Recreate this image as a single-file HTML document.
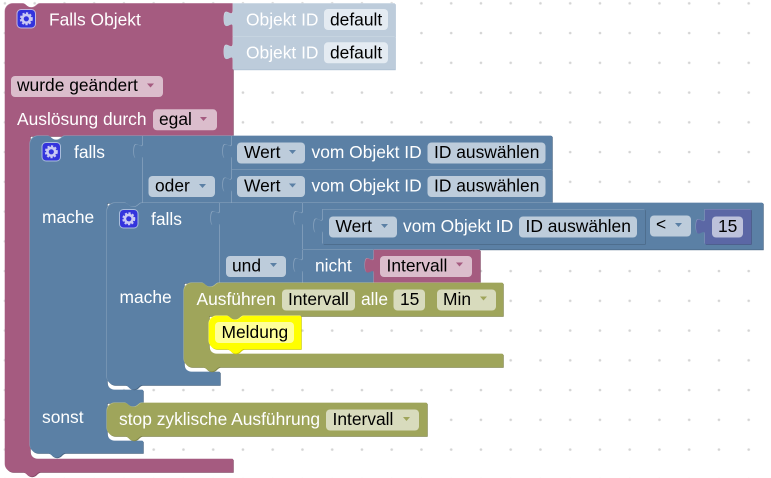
<!DOCTYPE html>
<html><head><meta charset="utf-8"><style>
html,body{margin:0;padding:0;background:#fff;width:771px;height:478px;overflow:hidden}
svg{display:block}
text{font-family:"Liberation Sans",Arial,sans-serif;font-size:17.4px;white-space:pre}
.w{fill:#fff}.k{fill:#000}.p{fill:#fff}
</style></head><body>
<svg width="771" height="478" viewBox="0 0 771 478" xmlns="http://www.w3.org/2000/svg">
<defs>
<pattern id="grid" x="4.95" y="3.3" width="29.75" height="29.75" patternUnits="userSpaceOnUse">
<circle cx="0" cy="0" r="1.3" fill="#d4d4d4"/><circle cx="29.75" cy="0" r="1.3" fill="#d4d4d4"/><circle cx="0" cy="29.75" r="1.3" fill="#d4d4d4"/><circle cx="29.75" cy="29.75" r="1.3" fill="#d4d4d4"/>
</pattern>
<path id="b0" d="M5,11.5a8,8 0 0 1 8,-8H23c3,0 4,4 8.5,4s5.5,-4 8.5,-4H233V136H30V451a8,8 0 0 0 8,8H233V472H40c-3,0 -4,4.5 -8.5,4.5s-5.5,-4.5 -8.5,-4.5H13a8,8 0 0 1 -8,-8Z"/>
<path id="o1" d="M233,3.5H395V36.5H233V27.5c0,-9 -9,7 -9,-8.5s9,1 9,-8.5Z"/>
<path id="o2" d="M233,36.5H395V69.5H233V60.5c0,-9 -9,7 -9,-8.5s9,1 9,-8.5Z"/>
<path id="b1" d="M30,144a8,8 0 0 1 8,-8H48c3,0 4,4 8.5,4s5.5,-4 8.5,-4H143V203H142c-3,0 -4,4 -8.5,4s-5.5,-4 -8.5,-4H107V382a8,8 0 0 0 8,8H143V403H142c-3,0 -4,4 -8.5,4s-5.5,-4 -8.5,-4H107V433a8,8 0 0 0 8,8H143V453H65c-3,0 -4,4.5 -8.5,4.5s-5.5,-4.5 -8.5,-4.5H38a8,8 0 0 1 -8,-8Z"/>
<path id="b2" d="M143,136H232V203H143V160c0,-9 -9,7 -9,-8.5s9,1 9,-8.5Z"/>
<path id="w1" d="M232,136H552V169.5H232V160c0,-9 -9,7 -9,-8.5s9,1 9,-8.5Z"/>
<path id="w2" d="M232,169.5H552V203H232V193.5c0,-9 -9,7 -9,-8.5s9,1 9,-8.5Z"/>
<path id="b3" d="M107,211a8,8 0 0 1 8,-8H125c3,0 4,4 8.5,4s5.5,-4 8.5,-4H220V283H219c-3,0 -4,4 -8.5,4s-5.5,-4 -8.5,-4H184V364a8,8 0 0 0 8,8H220V385H142c-3,0 -4,4.5 -8.5,4.5s-5.5,-4.5 -8.5,-4.5H115a8,8 0 0 1 -8,-8Z"/>
<path id="b4" d="M220,203H303V283H220V227c0,-9 -9,7 -9,-8.5s9,1 9,-8.5Z"/>
<path id="b5" d="M303,203H763V249.5H303V227c0,-9 -9,7 -9,-8.5s9,1 9,-8.5Z"/>
<path id="b6" d="M323,209.5H645V244H323V234.5c0,-9 -9,7 -9,-8.5s9,1 9,-8.5Z"/>
<path id="m1" d="M705,209.5H751V244H705V235c0,-9 -9,7 -9,-8.5s9,1 9,-8.5Z"/>
<path id="b7" d="M303,250H374V283H303V274c0,-9 -9,7 -9,-8.5s9,1 9,-8.5Z"/>
<path id="r1" d="M374,250H480V283H374V274c0,-9 -9,7 -9,-8.5s9,1 9,-8.5Z"/>
<path id="g1" d="M184,291a8,8 0 0 1 8,-8H202c3,0 4,4 8.5,4s5.5,-4 8.5,-4H503V316H244c-3,0 -4,4 -8.5,4s-5.5,-4 -8.5,-4H209V346a8,8 0 0 0 8,8H503V367H220c-3,0 -4,4.5 -8.5,4.5s-5.5,-4.5 -8.5,-4.5H192a8,8 0 0 1 -8,-8Z"/>
<path id="y1" d="M209,324a8,8 0 0 1 8,-8H227c3,0 4,4 8.5,4s5.5,-4 8.5,-4H301V349H244c-3,0 -4,4.5 -8.5,4.5s-5.5,-4.5 -8.5,-4.5H217a8,8 0 0 1 -8,-8Z"/>
<path id="g2" d="M107,411a8,8 0 0 1 8,-8H125c3,0 4,4 8.5,4s5.5,-4 8.5,-4H427V436H142c-3,0 -4,4.5 -8.5,4.5s-5.5,-4.5 -8.5,-4.5H115a8,8 0 0 1 -8,-8Z"/>
<g id="gear"><circle r="3.9" fill="none" stroke="#c9c9f4" stroke-width="2.6"/><circle r="5.6" fill="none" stroke="#c9c9f4" stroke-width="1.8" stroke-dasharray="2.2 1.5"/></g>
</defs>
<rect width="771" height="478" fill="#fff"/>
<rect width="771" height="478" fill="url(#grid)"/>

<!-- pink hat -->
<use href="#b0" fill="#844966" x=".7" y=".7"/><use href="#b0" fill="#c08da6" x="-.4" y="-.4"/><use href="#b0" fill="#a55b80"/>
<!-- object id -->
<rect x="233.7" y="4.2" width="162" height="33" fill="#a9bccf"/><use href="#o1" fill="#d5e0ea" x="-.4" y="-.4"/><use href="#o1" fill="#bdccdb"/>
<rect x="233.7" y="37.2" width="162" height="33" fill="#a9bccf"/><use href="#o2" fill="#d5e0ea" x="-.4" y="-.4"/><use href="#o2" fill="#bdccdb"/>

<!-- blue blocks -->
<use href="#b1" fill="#496684" x=".7" y=".7"/><use href="#b1" fill="#8ca6c0" x="-.5" y="-.5"/><use href="#b1" fill="#5b80a5"/>
<rect x="143.7" y="136.7" width="89" height="67" fill="#496684"/><use href="#b2" fill="#8ca6c0" x="-.7" y="-.5"/><use href="#b2" fill="#5b80a5"/>
<rect x="232.7" y="136.7" width="320" height="33.5" fill="#496684"/><use href="#w1" fill="#8ca6c0" x="-.7" y="-.5"/><use href="#w1" fill="#5b80a5"/>
<rect x="232.7" y="170.2" width="320" height="33.5" fill="#496684"/><use href="#w2" fill="#8ca6c0" x="-.7" y="-.5"/><use href="#w2" fill="#5b80a5"/>
<use href="#b3" fill="#496684" x=".7" y=".7"/><use href="#b3" fill="#8ca6c0" x="-.5" y="-.5"/><use href="#b3" fill="#5b80a5"/>
<rect x="220.7" y="203.7" width="83" height="80" fill="#496684"/><use href="#b4" fill="#8ca6c0" x="-.7" y="-.5"/><use href="#b4" fill="#5b80a5"/>
<rect x="303.7" y="203.7" width="460" height="46.5" fill="#496684"/><use href="#b5" fill="#8ca6c0" x="-.7" y="-.5"/><use href="#b5" fill="#5b80a5"/>
<rect x="323.7" y="210.2" width="322" height="34.5" fill="#496684"/><use href="#b6" fill="#8ca6c0" x="-.7" y="-.5"/><use href="#b6" fill="#5b80a5"/>
<rect x="705.7" y="210.2" width="46" height="34.5" fill="#495284"/><use href="#m1" fill="#8c95c0" x="-.5" y="-.5"/><use href="#m1" fill="#5b67a5"/>
<rect x="303.7" y="250.7" width="71" height="33" fill="#496684"/><use href="#b7" fill="#8ca6c0" x="-.7" y="-.5"/><use href="#b7" fill="#5b80a5"/>
<rect x="374.7" y="250.7" width="106" height="33" fill="#844966"/><use href="#r1" fill="#c08da6" x="-.5" y="-.5"/><use href="#r1" fill="#a55b80"/>
<!-- olive -->
<use href="#g1" fill="#7f8449" x=".7" y=".7"/><use href="#g1" fill="#bcc08c" x="-.5" y="-.5"/><use href="#g1" fill="#9fa55b"/>
<use href="#y1" fill="#cccc00" x=".7" y=".7"/><use href="#y1" fill="#ffff66" x="-.5" y="-.5"/><use href="#y1" fill="#ffff00"/>
<use href="#g2" fill="#7f8449" x=".7" y=".7"/><use href="#g2" fill="#bcc08c" x="-.5" y="-.5"/><use href="#g2" fill="#9fa55b"/>

<!-- icons -->
<rect x="17" y="9.5" width="18.5" height="18.5" rx="4" fill="#3333dd" stroke="#c4b6dd"/>
<use href="#gear" transform="translate(26.3,18.8)"/>
<rect x="42" y="142.5" width="18.5" height="18.5" rx="4" fill="#3333dd" stroke="#a9bddb"/>
<use href="#gear" transform="translate(51.3,151.8)"/>
<rect x="119.5" y="209.5" width="18.5" height="18.5" rx="4" fill="#3333dd" stroke="#a9bddb"/>
<use href="#gear" transform="translate(128.8,218.8)"/>

<!-- fields -->
<g fill="#e4ebf2"><rect x="324" y="9" width="64" height="21" rx="4"/><rect x="324" y="42.3" width="64" height="21" rx="4"/></g>
<g fill="#dbbdcc"><rect x="11" y="76" width="152" height="21" rx="4"/><rect x="153" y="109.3" width="64" height="21" rx="4"/><rect x="380" y="256" width="92" height="21" rx="4"/></g>
<g fill="#bdccdb">
<rect x="237" y="142.5" width="68" height="21" rx="4"/><rect x="427.5" y="142.5" width="118" height="21" rx="4"/>
<rect x="237" y="176" width="68" height="21" rx="4"/><rect x="427.5" y="176" width="118" height="21" rx="4"/>
<rect x="148.5" y="176" width="66.5" height="21" rx="4"/>
<rect x="329" y="216.5" width="68" height="21" rx="4"/><rect x="519" y="216.5" width="118" height="21" rx="4"/>
<rect x="650" y="215.5" width="41" height="21" rx="4"/>
<rect x="226" y="256" width="60" height="21" rx="4"/>
</g>
<rect x="712" y="216.5" width="31" height="21" rx="4" fill="#bdc2db"/>
<g fill="#d8dbbd">
<rect x="282" y="289.5" width="73" height="21" rx="4"/><rect x="393.5" y="289.5" width="31.5" height="21" rx="4"/><rect x="437" y="289.5" width="59" height="21" rx="4"/>
<rect x="326" y="409.5" width="93" height="21" rx="4"/>
</g>
<rect x="215" y="322" width="79" height="21" rx="4" fill="#ffff99"/>

<!-- dropdown arrows -->
<g fill="#a55b80"><path d="M147,83.5h7l-3.5,4z"/><path d="M200,117h7l-3.5,4z"/><path d="M456,262.5h7l-3.5,4z"/></g>
<g fill="#5b80a5"><path d="M289,150h7l-3.5,4z"/><path d="M289,183.5h7l-3.5,4z"/><path d="M199,184h7l-3.5,4z"/><path d="M381,224h7l-3.5,4z"/><path d="M675,223h7l-3.5,4z"/><path d="M270,263h7l-3.5,4z"/></g>
<g fill="#9fa55b"><path d="M480,296.5h7l-3.5,4z"/><path d="M403,417h7l-3.5,4z"/></g>

<!-- labels -->
<text class="w" x="49" y="25.5">Falls Objekt</text>
<text class="p" x="246" y="25.5">Objekt ID</text><text class="k" x="330" y="25.5">default</text>
<text class="p" x="246" y="58.5">Objekt ID</text><text class="k" x="330" y="58.5">default</text>
<text class="k" x="17" y="91">wurde geändert</text>
<text class="w" x="17" y="125">Auslösung durch</text><text class="k" x="159" y="125">egal</text>
<text class="w" x="74" y="158">falls</text>
<text class="k" x="244" y="158">Wert</text><text class="w" x="311.5" y="158">vom Objekt ID</text><text class="k" x="434" y="158">ID auswählen</text>
<text class="k" x="155" y="191.5">oder</text>
<text class="k" x="244" y="191.5">Wert</text><text class="w" x="311.5" y="191.5">vom Objekt ID</text><text class="k" x="434" y="191.5">ID auswählen</text>
<text class="w" x="42" y="223">mache</text>
<text class="w" x="151" y="225">falls</text>
<text class="k" x="335.5" y="232">Wert</text><text class="w" x="403" y="232">vom Objekt ID</text><text class="k" x="525.5" y="232">ID auswählen</text>
<text class="k" x="656" y="230">&lt;</text>
<text class="k" x="718" y="232">15</text>
<text class="k" x="232" y="271.5">und</text><text class="w" x="315" y="271.5">nicht</text><text class="k" x="386.5" y="271.5">Intervall</text>
<text class="w" x="119.5" y="303">mache</text>
<text class="w" x="196.5" y="305">Ausführen</text><text class="k" x="288" y="305">Intervall</text><text class="w" x="361" y="305">alle</text><text class="k" x="400" y="305">15</text><text class="k" x="443" y="305">Min</text>
<text class="k" x="221.5" y="338">Meldung</text>
<text class="w" x="42" y="423">sonst</text>
<text class="w" x="119" y="425">stop zyklische Ausführung</text><text class="k" x="332.5" y="425">Intervall</text>
</svg>
</body></html>
